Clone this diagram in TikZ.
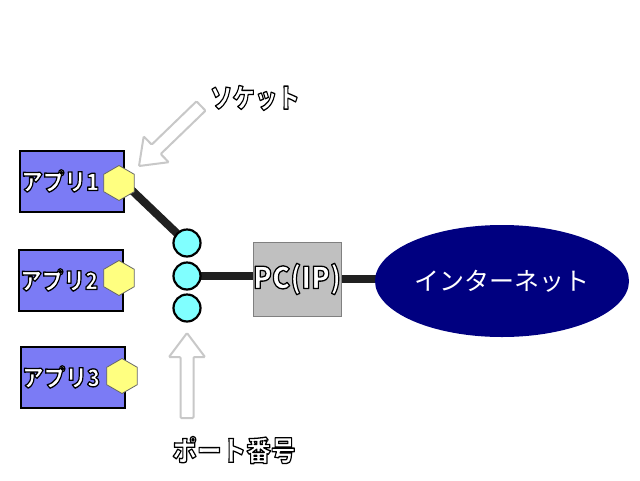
\documentclass[tikz,border=0pt]{standalone}
\usepackage{fontspec}
\usepackage{graphicx}
\setmainfont{Noto Sans CJK JP}
\usetikzlibrary{shapes.geometric}
\definecolor{appblue}{HTML}{7B7BF5}
\definecolor{sockyellow}{HTML}{FFFF80}
\definecolor{portcyan}{HTML}{80FFFF}
\definecolor{pcgray}{HTML}{C0C0C0}
\definecolor{pcborder}{HTML}{808080}
\definecolor{inetnavy}{HTML}{000080}
\definecolor{linkblack}{HTML}{202020}
\definecolor{hintgray}{HTML}{C8C8C8}
\newcommand{\outl}[2]{\scalebox{#1}[1]{\special{pdf:literal direct 2 Tr 1.3 w 1 j 0 G}#2\special{pdf:literal direct 0 Tr}}}
\pgfdeclarelayer{bg}
\pgfdeclarelayer{mid}
\pgfsetlayers{bg,mid,main}
\begin{document}
\begin{tikzpicture}[x=1pt,y=-1pt,
  app/.style={draw=black, line width=2pt, fill=appblue, minimum width=104pt, minimum height=61pt, inner sep=0pt},
  applabel/.style={text=white, font=\fontsize{24}{26}\selectfont\bfseries, inner sep=0pt, anchor=west},
  sock/.style={regular polygon, regular polygon sides=6, shape border rotate=30, draw=black!60, line width=0.8pt, fill=sockyellow, minimum size=35pt, inner sep=0pt},
  port/.style={circle, draw=black, line width=2.2pt, fill=portcyan, minimum size=27pt, inner sep=0pt},
  link/.style={line width=8pt, draw=linkblack},
  hint/.style={draw=hintgray, line width=2pt, fill=white, rounded corners=1pt},
  note/.style={text=white, font=\fontsize{27}{29}\selectfont\bfseries, inner sep=0pt},
  pcbox/.style={draw=pcborder, line width=1pt, fill=pcgray, minimum width=88pt, minimum height=74pt, inner sep=0pt},
  inetnode/.style={ellipse, fill=inetnavy, minimum width=254pt, minimum height=112pt, inner sep=0pt, text=white, font=\fontsize{25}{27}\selectfont}
]
\begin{pgfonlayer}{bg}
\fill[white] (0,0) rectangle (640,480);
\end{pgfonlayer}
\useasboundingbox (0,0) rectangle (640,480);

% application boxes
\begin{pgfonlayer}{bg}
\node[app] (app1) at (72,181) {};
\node[app] (app2) at (71,280) {};
\node[app] (app3) at (73,377) {};
\end{pgfonlayer}
\node[applabel] (lab1) at ([xshift=2pt]app1.west) {\outl{0.9}{アプリ1}};
\node[applabel] (lab2) at ([xshift=2pt]app2.west) {\outl{0.9}{アプリ2}};
\node[applabel] (lab3) at ([xshift=2pt]app3.west) {\outl{0.9}{アプリ3}};

% sockets
\node[sock] (sock1) at (119,183) {};
\node[sock] (sock2) at (119,278) {};
\node[sock] (sock3) at (122,376) {};

% ports
\node[port] (port1) at (187,243) {};
\node[port] (port2) at (187,276) {};
\node[port] (port3) at (187,308) {};

% PC and Internet
\node[pcbox] (pc) at (297,279) {};
\node[text=white, font=\fontsize{30}{32}\selectfont\bfseries, inner sep=0pt] (pclab) at (pc.center) {\outl{0.92}{PC(IP)}};
\node[inetnode] (inet) at (502,281) {インターネット};

% links
\begin{pgfonlayer}{mid}
\draw[link] ([yshift=5pt]sock1.center) -- (port1.center);
\draw[link] (port2.center) -- (port2 -| pc.center);
\draw[link] (pc.center) -- (pc -| inet.center);
\end{pgfonlayer}

% hint arrows
\draw[hint] (205.5,110.7) -- (160.7,154.0) -- (168.7,162.2) -- (139,166) -- (143.7,136.4) -- (151.7,144.6) -- (196.5,101.3) -- cycle;
\draw[hint] (180.5,418) -- (180.5,357) -- (169,357) -- (187,333) -- (205,357) -- (193.5,357) -- (193.5,418) -- cycle;

% notes
\node[note] (socknote) at (255,98) {\outl{0.83}{ソケット}};
\node[note, font=\fontsize{28}{30}\selectfont\bfseries] (portnote) at (234,450) {\outl{0.88}{ポート番号}};
\end{tikzpicture}
\end{document}
